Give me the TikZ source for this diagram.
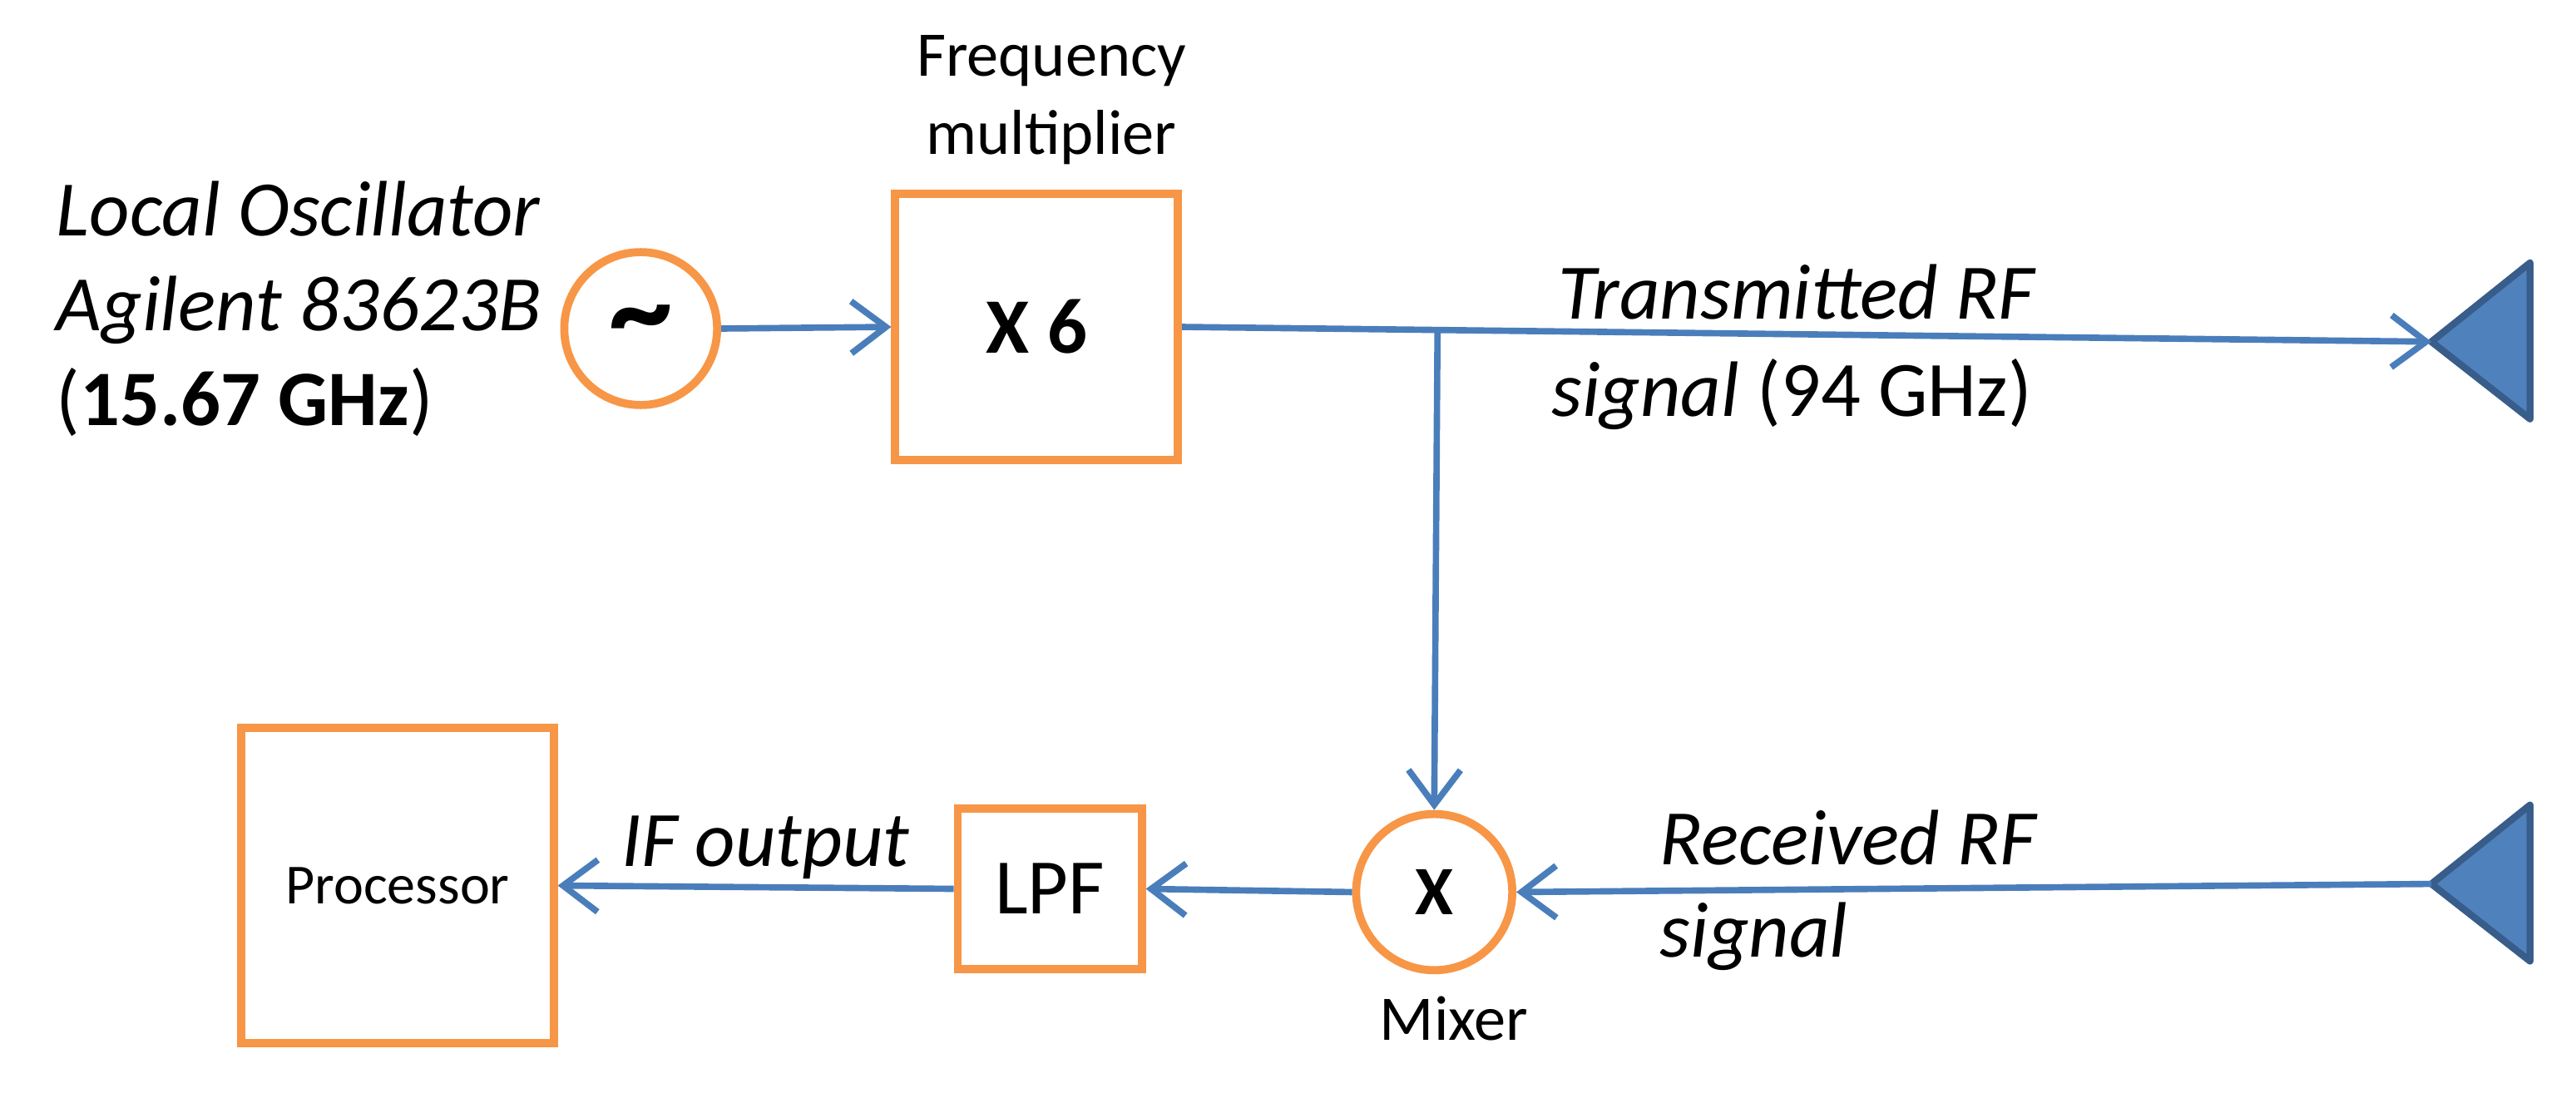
\documentclass[tikz,border=0pt]{standalone}
\usepackage{fontspec}
\setmainfont{Carlito}
\usetikzlibrary{arrows.meta}
\definecolor{org}{HTML}{F79646}
\definecolor{blu}{HTML}{4A7EBB}
\definecolor{ant}{HTML}{4F81BD}
\definecolor{antd}{HTML}{385D8A}
\begin{document}
\begin{tikzpicture}[x=0.01cm,y=-0.01cm,
  ob/.style={draw=org,line width=1.4pt},
  wire/.style={draw=blu,line width=1.1pt},
  arr/.style={wire,-{Straight Barb[length=6pt,width=9pt]}},
  big/.style={font=\fontsize{13.6}{16.4}\selectfont},
  sm/.style={font=\fontsize{11}{13.5}\selectfont}]
\useasboundingbox (0,0) rectangle (1568,677);
\node[ob,circle,minimum size=0.93cm,inner sep=0pt,font=\bfseries\fontsize{22}{22}\selectfont] (osc) at (390,200) {\raisebox{-3pt}{\textasciitilde}};
\node[ob,minimum width=1.72cm,minimum height=1.62cm,font=\bfseries\fontsize{13.6}{16}\selectfont] (mul) at (631,199) {X 6};
\node[sm,align=center] (mt) at (640,61) {Frequency\\multiplier};
\node[big,align=left,anchor=west] (lo) at (22,188) {\itshape Local Oscillator\\\itshape Agilent 83623B\\(\textbf{15.67 GHz})};
\node[ob,circle,minimum size=0.95cm,inner sep=0pt,font=\bfseries\fontsize{12}{12}\selectfont] (mix) at (873,543) {X};
\node[sm] (mixl) at (885,620) {Mixer};
\node[ob,minimum width=1.12cm,minimum height=0.98cm,big] (lpf) at (639,541) {LPF};
\node[ob,minimum width=1.9cm,minimum height=1.92cm,font=\fontsize{9.8}{11}\selectfont] (proc) at (242,539) {Processor};
\node[big,anchor=west] (tx1) at (936,178) {\itshape Transmitted RF};
\node[big,anchor=west] (tx2) at (932,240) {\itshape signal \upshape(94 GHz)};
\node[big,anchor=west] (rx1) at (998,510) {\itshape Received RF};
\node[big,anchor=west] (rx2) at (998,570) {\itshape signal};
\node[big] (ifo) at (466,516) {\itshape IF output};
\coordinate (ta) at (1480,208);
\coordinate (ra) at (1480,538);
\coordinate (br) at (875,202);
\draw[fill=ant,draw=antd,line width=1.2pt,line join=round] (ta) -- (1540,160) -- (1540,255) -- cycle;
\draw[fill=ant,draw=antd,line width=1.2pt,line join=round] (ra) -- (1540,490) -- (1540,585) -- cycle;
\draw[arr] (osc.east) -- (mul.west);
\draw[arr] (mul.east) -- (ta);
\draw[arr] (br) -- (mix.north);
\draw[arr] (ra) -- (mix.east);
\draw[arr] (mix.west) -- (lpf.east);
\draw[arr] (lpf.west) -- (proc.east);
\end{tikzpicture}
\end{document}
